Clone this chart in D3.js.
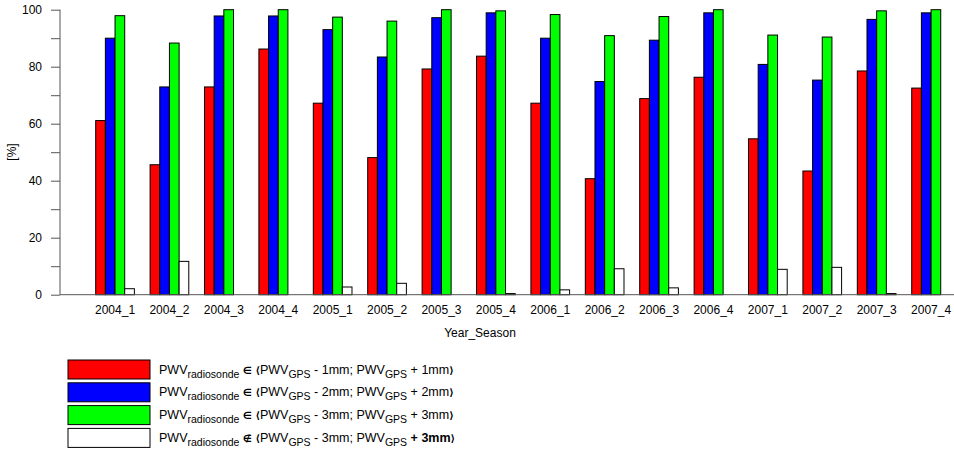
<!DOCTYPE html>
<html>
<head>
<meta charset="utf-8">
<script src="https://cdn.jsdelivr.net/npm/d3@7"></script>
<style>
  html, body { margin: 0; padding: 0; background: #fff; }
  svg { display: block; font-family: "Liberation Sans", Arial, sans-serif; }
</style>
</head>
<body>
<svg id="chart" width="954" height="451"></svg>
<script>
// Seasonal agreement of radiosonde PWV with GPS PWV
const categories = ["2004_1","2004_2","2004_3","2004_4","2005_1","2005_2","2005_3","2005_4",
                    "2006_1","2006_2","2006_3","2006_4","2007_1","2007_2","2007_3","2007_4"];
const within1mm  = [61.1, 45.6, 72.9, 86.2, 67.2, 48.1, 79.2, 83.7, 67.2, 40.7, 68.8, 76.3, 54.7, 43.4, 78.5, 72.5];
const within2mm  = [90.0, 72.9, 97.8, 97.8, 93.0, 83.4, 97.2, 98.9, 90.0, 74.8, 89.3, 98.9, 80.8, 75.3, 96.6, 98.9];
const within3mm  = [97.9, 88.3, 100, 100, 97.4, 96.0, 100, 99.6, 98.3, 90.9, 97.6, 100, 91.1, 90.4, 99.6, 100];
const outside3mm = [2.1, 11.7, 0, 0, 2.7, 4.0, 0, 0.4, 1.7, 9.1, 2.4, 0, 8.9, 9.6, 0.4, 0];
const yTicks = [0, 20, 40, 60, 80, 100];
const yMinorTicks = [10, 30, 50, 70, 90];

const seriesKeys = ["r1", "r2", "r3", "out"];
const seriesColors = { r1: "#ff0000", r2: "#0000ff", r3: "#00ff00", out: "#ffffff" };
const seriesValues = { r1: within1mm, r2: within2mm, r3: within3mm, out: outside3mm };

const svg = d3.select("#chart");
const axisColor = "#555";

const y = d3.scaleLinear().domain([0, 100]).range([294.7, 9.7]);
const x = d3.scaleBand().domain(categories).range([95.7, 950.4]).paddingInner(0.289).paddingOuter(0);
const xs = d3.scaleBand().domain(seriesKeys).range([0, x.bandwidth()]).padding(0);

// bars
const groups = svg.append("g").selectAll("g")
  .data(categories)
  .join("g")
  .attr("transform", d => `translate(${x(d)},0)`);

groups.selectAll("rect")
  .data((c, i) => seriesKeys.map(k => ({ key: k, value: seriesValues[k][i] })))
  .join("rect")
  .attr("x", d => xs(d.key))
  .attr("y", d => y(d.value))
  .attr("width", xs.bandwidth())
  .attr("height", d => y(0) - y(d.value))
  .attr("fill", d => seriesColors[d.key])
  .attr("stroke", "#000")
  .attr("stroke-width", 1);

// baseline across the plot
svg.append("line")
  .attr("x1", 60).attr("x2", 954)
  .attr("y1", y(0)).attr("y2", y(0))
  .attr("stroke", axisColor).attr("stroke-width", 1);

// y axis
const yAxis = svg.append("g")
  .attr("transform", "translate(60,0)")
  .call(d3.axisLeft(y).tickValues(yTicks).tickSize(9).tickPadding(9).tickFormat(d3.format("d")));
yAxis.select(".domain").attr("stroke", axisColor).attr("d", `M0,${y(100)}V${y(0)}`);
yAxis.selectAll(".tick line").attr("stroke", axisColor);
yAxis.selectAll("text").attr("font-size", 12).attr("fill", "#000")
  .attr("font-family", "Liberation Sans, Arial, sans-serif");

const yMinor = svg.append("g")
  .attr("transform", "translate(60,0)")
  .call(d3.axisLeft(y).tickValues(yMinorTicks).tickSize(9).tickFormat(""));
yMinor.select(".domain").remove();
yMinor.selectAll(".tick line").attr("stroke", axisColor);

// x axis labels
const xAxis = svg.append("g")
  .attr("transform", `translate(0,${y(0)})`)
  .call(d3.axisBottom(x).tickSize(0).tickPadding(11));
xAxis.select(".domain").remove();
xAxis.selectAll("text").attr("font-size", 12).attr("fill", "#000")
  .attr("font-family", "Liberation Sans, Arial, sans-serif");

// axis titles
svg.append("text")
  .attr("x", 480).attr("y", 337)
  .attr("text-anchor", "middle")
  .attr("font-size", 12)
  .text("Year_Season");

svg.append("text")
  .attr("transform", "translate(16,152) rotate(-90)")
  .attr("text-anchor", "middle")
  .attr("font-size", 12)
  .text("[%]");

// legend
const legendRows = [
  { key: "r1", rel: "\u2208", tol: "1", boldEnd: false },
  { key: "r2", rel: "\u2208", tol: "2", boldEnd: false },
  { key: "r3", rel: "\u2208", tol: "3", boldEnd: false },
  { key: "out", rel: "\u2209", tol: "3", boldEnd: true }
];

const legend = svg.append("g");
legendRows.forEach((row, i) => {
  const top = 360 + i * 22.8;
  legend.append("rect")
    .attr("x", 68).attr("y", top)
    .attr("width", 82).attr("height", 19)
    .attr("fill", seriesColors[row.key])
    .attr("stroke", "#000").attr("stroke-width", 1);

  const t = legend.append("text")
    .attr("x", 159).attr("y", top + 13.5)
    .attr("font-size", 12.5);
  const sub = (s) => t.append("tspan").attr("dy", 4).attr("font-size", 10.5).text(s);
  const norm = (s, bold) => {
    const sp = t.append("tspan").attr("dy", -4).text(s);
    if (bold) sp.attr("font-weight", "bold");
    return sp;
  };
  const symbol = (s) => t.append("tspan")
    .attr("font-family", "DejaVu Sans").attr("font-weight", "bold")
    .attr("font-size", 10).text(s);

  t.append("tspan").text("PWV");
  sub("radiosonde");
  norm(" ");
  symbol(row.rel);
  t.append("tspan").text(" ");
  symbol("\u27E8");
  t.append("tspan").text("PWV");
  sub("GPS");
  norm(` - ${row.tol}mm; PWV`);
  sub("GPS");
  norm(` + ${row.tol}mm`, row.boldEnd);
  symbol("\u27E9");
});
</script>
</body>
</html>
